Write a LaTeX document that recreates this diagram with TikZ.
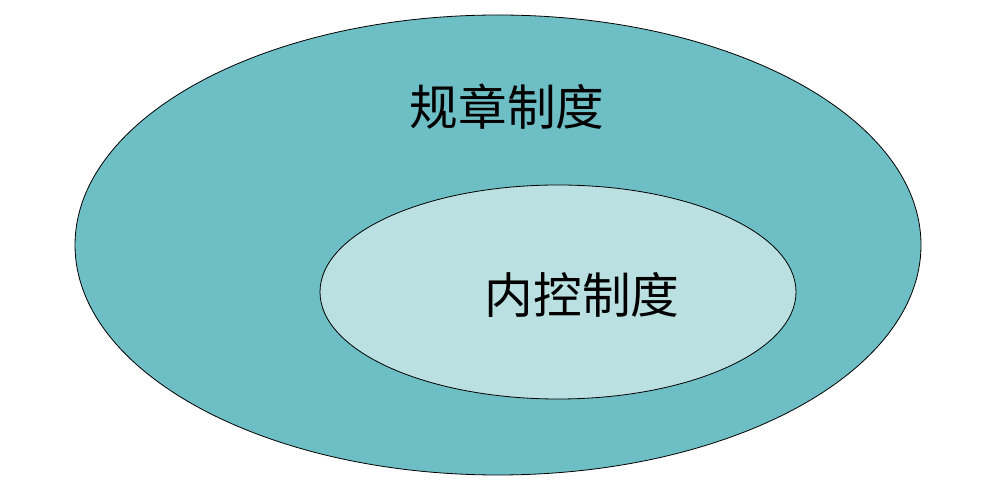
\documentclass[tikz,border=0pt]{standalone}
\usepackage{fontspec}
\newfontfamily\cjk{Noto Sans CJK SC}
\definecolor{outerteal}{HTML}{6EBFC5}
\definecolor{innerteal}{HTML}{BAE0E1}
\begin{document}
\begin{tikzpicture}[x=0.75pt,y=0.75pt]
                    \useasboundingbox (0,0) rectangle (992,485);
                    \draw[fill=outerteal,line width=0.6pt] (498,240) ellipse (423 and 230);
                    \draw[fill=innerteal,line width=0.6pt] (558,193) ellipse (238 and 107);
                    \node[font=\cjk\fontsize{36.5}{40}\selectfont] (label_1) at (507,378) {规章制度};
                    \node[font=\cjk\fontsize{36.5}{40}\selectfont] (label_2) at (582,190) {内控制度};
                \end{tikzpicture}
\end{document}
